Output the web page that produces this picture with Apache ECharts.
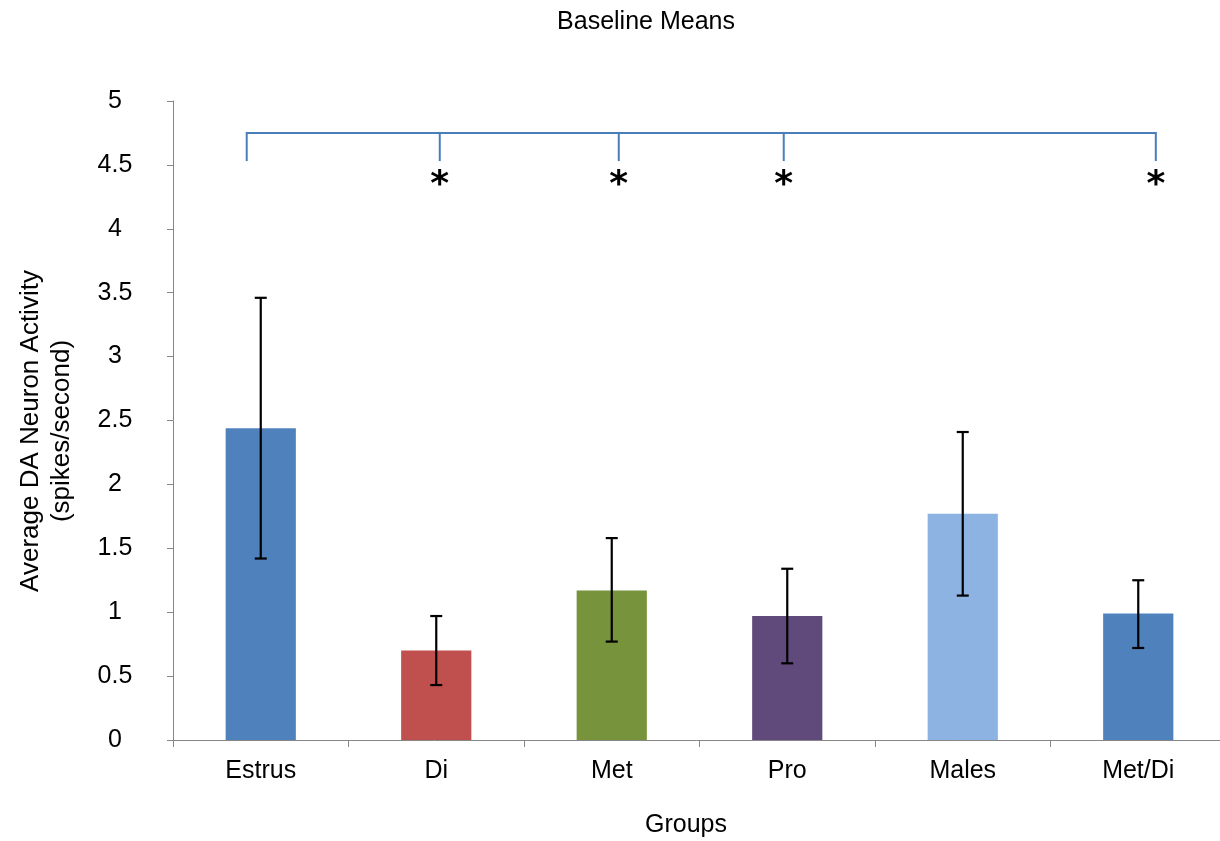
<!DOCTYPE html>
<html>
<head>
<meta charset="utf-8">
<title>Baseline Means</title>
<script src="https://cdn.jsdelivr.net/npm/echarts@6/dist/echarts.min.js"></script>
<style>
  html, body { margin: 0; padding: 0; background: #ffffff; }
  #chart { width: 1220px; height: 841px; }
</style>
</head>
<body>
<div id="chart"></div>
<script>
// Group names along the x axis
const categories = ['Estrus', 'Di', 'Met', 'Pro', 'Males', 'Met/Di'];
// Mean baseline firing rate (spikes/second) per group
const means = [2.44, 0.70, 1.17, 0.97, 1.77, 0.99];
// Lower and upper ends of the error bars
const errLow = [1.42, 0.43, 0.77, 0.60, 1.13, 0.72];
const errHigh = [3.46, 0.97, 1.58, 1.34, 2.41, 1.25];
// Bar fill per group
const barColors = ['#4F81BD', '#C0504D', '#77933C', '#604A7B', '#8DB3E2', '#4F81BD'];
// Significance bracket: drop positions (in category units), which drops carry a star
const bracketDrops = [0.42, 1.52, 2.54, 3.48, 5.60];
const bracketStars = [false, true, true, true, true];
const bracketLevel = 4.75;
const bracketFoot = 4.53;
const starLevel = 4.40;
// Y axis range and step
const yMin = 0, yMax = 5, yStep = 0.5;

const FONT = "'Liberation Sans', Arial, sans-serif";
const chart = echarts.init(document.getElementById('chart'), null, { renderer: 'canvas' });

const option = {
  backgroundColor: '#ffffff',
  animation: false,
  grid: {
    left: 173, top: 101, width: 1053, height: 639,
    containLabel: false, outerBoundsMode: 'none'
  },
  xAxis: [
    {
      type: 'category',
      data: categories,
      boundaryGap: true,
      axisLine: { show: true, lineStyle: { color: '#868686', width: 1 } },
      axisTick: { show: true, length: 7, lineStyle: { color: '#868686' } },
      axisLabel: { color: '#000', fontFamily: FONT, fontSize: 25, margin: 19 },
      splitLine: { show: false }
    },
    {
      type: 'value', min: 0, max: categories.length, show: false
    }
  ],
  yAxis: {
    type: 'value',
    min: yMin, max: yMax, interval: yStep,
    axisLine: { show: true, lineStyle: { color: '#868686', width: 1 } },
    axisTick: { show: true, length: 6, lineStyle: { color: '#868686' } },
    axisLabel: { color: '#000', fontFamily: FONT, fontSize: 25, margin: 58, align: 'center' },
    splitLine: { show: false }
  },
  series: [
    {
      type: 'bar',
      xAxisIndex: 0,
      barWidth: '40%',
      data: means.map((v, i) => ({ value: v, itemStyle: { color: barColors[i] } })),
      z: 2
    },
    {
      // error bars
      type: 'custom',
      xAxisIndex: 0,
      data: categories.map((c, i) => [i, errLow[i], errHigh[i]]),
      z: 3,
      renderItem: function (params, api) {
        const lo = api.coord([api.value(0), api.value(1)]);
        const hi = api.coord([api.value(0), api.value(2)]);
        const half = 6;
        const style = { stroke: '#000', lineWidth: 2.2 };
        return {
          type: 'group',
          children: [
            { type: 'line', shape: { x1: lo[0], y1: lo[1], x2: hi[0], y2: hi[1] }, style },
            { type: 'line', shape: { x1: hi[0] - half, y1: hi[1], x2: hi[0] + half, y2: hi[1] }, style },
            { type: 'line', shape: { x1: lo[0] - half, y1: lo[1], x2: lo[0] + half, y2: lo[1] }, style }
          ]
        };
      }
    },
    {
      // top of the significance bracket
      type: 'line',
      xAxisIndex: 1,
      symbol: 'none',
      lineStyle: { color: '#4A7EBB', width: 2 },
      data: [[bracketDrops[0], bracketLevel], [bracketDrops[bracketDrops.length - 1], bracketLevel]],
      z: 4
    },
    {
      // bracket drops with significance stars
      type: 'custom',
      xAxisIndex: 1,
      data: bracketDrops.map((x, i) => [x, bracketStars[i] ? 1 : 0]),
      z: 4,
      renderItem: function (params, api) {
        const x = api.value(0);
        const top = api.coord([x, bracketLevel]);
        const foot = api.coord([x, bracketFoot]);
        const star = api.coord([x, starLevel]);
        const children = [
          { type: 'line', shape: { x1: top[0], y1: top[1] - 1, x2: foot[0], y2: foot[1] },
            style: { stroke: '#4A7EBB', lineWidth: 2 } }
        ];
        if (api.value(1)) {
          // the asterisk glyph sits high in its em box, so anchor it from the top
          children.push({
            type: 'text',
            x: star[0], y: star[1] - 10,
            style: { text: '*', fill: '#000', font: "bold 36px 'DejaVu Sans', sans-serif",
                     align: 'center', verticalAlign: 'top' }
          });
        }
        return { type: 'group', children };
      }
    }
  ],
  graphic: [
    {
      type: 'text', x: 646, y: 22,
      style: { text: 'Baseline Means', fill: '#000', font: '25px ' + FONT,
               align: 'center', verticalAlign: 'middle' }
    },
    {
      type: 'text', x: 686, y: 825,
      style: { text: 'Groups', fill: '#000', font: '25px ' + FONT,
               align: 'center', verticalAlign: 'middle' }
    },
    {
      type: 'text', x: 46, y: 431, rotation: Math.PI / 2,
      style: { text: 'Average DA Neuron Activity\n(spikes/second)', fill: '#000',
               font: '26px ' + FONT, lineHeight: 31,
               align: 'center', verticalAlign: 'middle' }
    }
  ]
};

chart.setOption(option);
</script>
</body>
</html>
